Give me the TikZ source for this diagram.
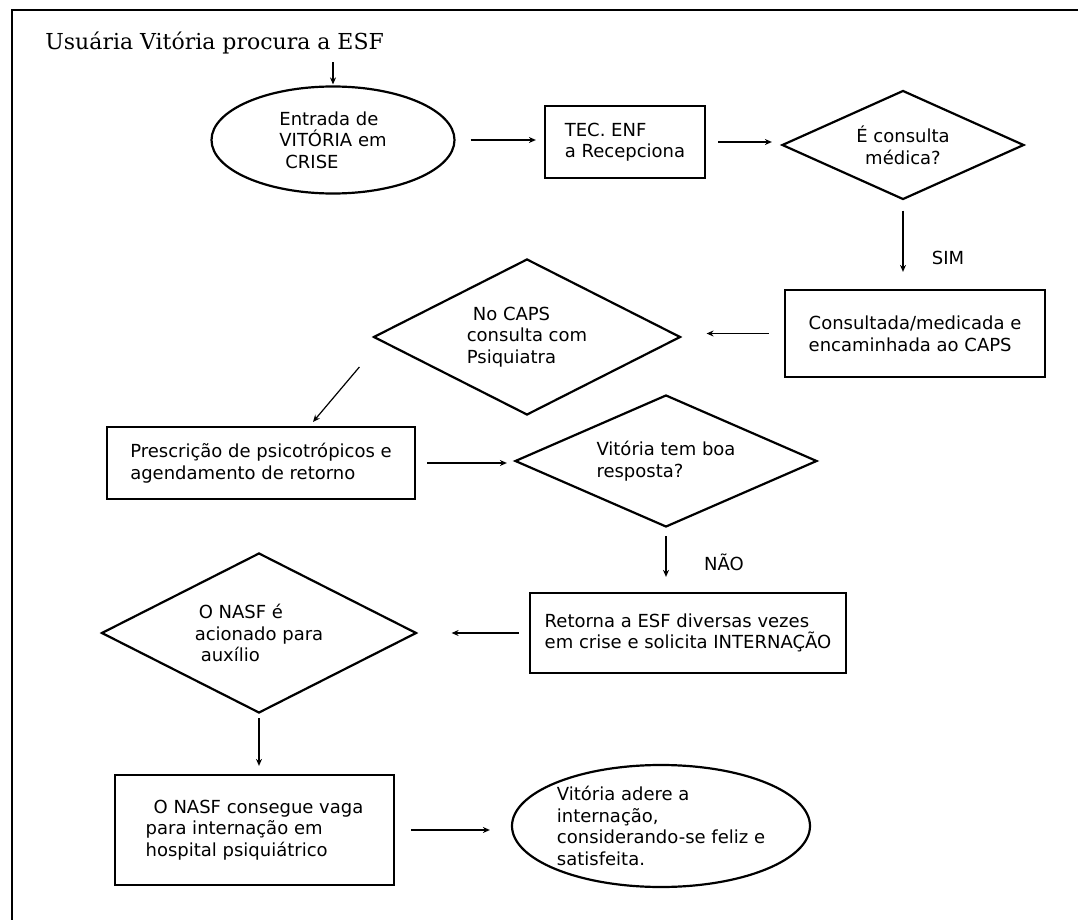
\documentclass[tikz,border=0pt]{standalone}
\usepackage{fontspec}
\setmainfont{DejaVu Sans}
\newfontfamily\titlefont{DejaVu Serif}
\usetikzlibrary{shapes.geometric,arrows.meta,calc}
\tikzset{
  every node/.style={font=\fontsize{9}{10.8}\selectfont},
  caixa/.style={draw,line width=1.1pt,rectangle,align=left,inner sep=0pt},
  oval/.style={draw,line width=1.1pt,ellipse,align=left,inner sep=0pt},
  losango/.style={draw,line width=1.1pt,diamond,aspect=2,align=left,inner sep=0pt},
  seta/.style={-{Stealth[length=3.5pt,width=3pt]},line width=0.6pt}
}
\begin{document}
\begin{tikzpicture}[x=0.5pt,y=-0.5pt]
\useasboundingbox (0,0) rectangle (1078,920);
\draw[line width=1pt] (12,920) -- (12,10) -- (1078,10);

\node[anchor=west,inner sep=0pt,font=\titlefont\fontsize{11}{13}\selectfont] (titulo) at (45,43) {Usuária Vitória procura a ESF};
\node[oval,minimum width=121.5pt,minimum height=53.5pt] (ent) at (333,140) {Entrada de\\VITÓRIA em\\\hspace*{3pt}CRISE};
\node[caixa,minimum width=80pt,minimum height=36pt] (tec) at (625,142) {TEC. ENF\\a Recepciona};
\node[losango,align=center,minimum width=121pt,minimum height=54.5pt] (consmed) at (903,145) {É consulta\\médica?};
\node[caixa,minimum width=130pt,minimum height=43.5pt] (encam) at (915,333.5) {Consultada/medicada e\\encaminhada ao CAPS};
\node[losango,minimum width=153.5pt,minimum height=78pt] (caps) at (527,337) {\hspace*{3pt}No CAPS\\consulta com\\Psiquiatra};
\node[caixa,minimum width=154pt,minimum height=36pt] (presc) at (261,463) {Prescrição de psicotrópicos e\\agendamento de retorno};
\node[losango,minimum width=151pt,minimum height=66pt] (resp) at (666,461) {Vitória tem boa\\resposta?};
\node[caixa,minimum width=158pt,minimum height=40pt] (retorna) at (688,633) {Retorna a ESF diversas vezes\\em crise e solicita INTERNAÇÃO};
\node[losango,minimum width=157.5pt,minimum height=80pt] (nasf) at (259,633) {\hspace*{2pt}O NASF é\\acionado para\\\hspace*{3pt}auxílio};
\node[caixa,minimum width=139.5pt,minimum height=55pt] (vaga) at (254.5,830) {\hspace*{4pt}O NASF consegue vaga\\para internação em\\hospital psiquiátrico};
\node[oval,minimum width=149pt,minimum height=61pt] (fim) at (661,826) {Vitória adere a\\internação,\\considerando-se feliz e\\satisfeita.};

\node (sim) at (948,258) {SIM};
\node (nao) at (724,562) {NÃO};

\draw[seta,shorten <=4pt,shorten >=0.5pt] (ent.north |- titulo.south) -- (ent.north);
\draw[seta,shorten <=7.5pt,shorten >=4pt] (ent.east) -- (ent.east -| tec.west);
\draw[seta,shorten <=6pt,shorten >=4.5pt] (tec.east) -- (tec.east -| consmed.west);
\draw[seta,shorten <=5pt,shorten >=8.5pt] (consmed.south) -- (consmed.south |- encam.north);
\draw[seta,shorten <=7.5pt,shorten >=12.5pt] (encam.west) -- (encam.west -| caps.east);
\draw[seta] ($(caps.west)+(-13,30)$) -- ($(presc.north)+(52,-4)$);
\draw[seta,shorten <=5.5pt,shorten >=3.5pt] (presc.east) -- (presc.east -| resp.west);
\draw[seta,shorten <=4pt,shorten >=7.5pt] (resp.south) -- (resp.south |- retorna.north);
\draw[seta,shorten <=5pt,shorten >=17pt] (retorna.west) -- (retorna.west -| nasf.east);
\draw[seta,shorten <=2pt,shorten >=4pt] (nasf.south) -- (nasf.south |- vaga.north);
\draw[seta,shorten <=8pt,shorten >=10.5pt] (vaga.east) -- (vaga.east -| fim.west);
\end{tikzpicture}
\end{document}
